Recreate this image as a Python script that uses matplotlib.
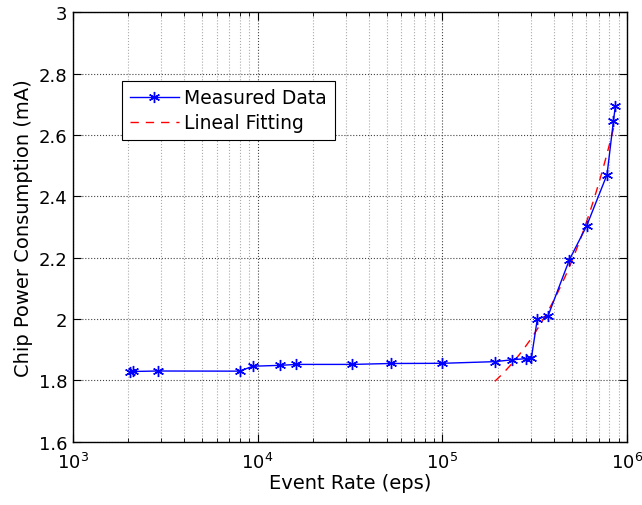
import numpy as np
import matplotlib
matplotlib.use("Agg")
import matplotlib.pyplot as plt
from matplotlib.ticker import FixedLocator, FixedFormatter, LogLocator, NullFormatter

plt.rcParams['font.family'] = ['DejaVu Sans']
plt.rcParams['mathtext.fontset'] = 'dejavusans'

# Measured data
event_rate = [2050, 2130, 2900, 8000, 9400, 13300, 16200, 32600, 52500, 100000,
              192000, 238000, 284000, 303000, 326000, 373000, 486000, 603000,
              777000, 841000, 862000]
power = [1.828, 1.829, 1.8305, 1.830, 1.846, 1.849, 1.852, 1.852, 1.855, 1.8556,
         1.861, 1.867, 1.871, 1.874, 2.000, 2.011, 2.193, 2.304,
         2.471, 2.645, 2.694]
fit_start_index = 10  # linear fit uses points from 1.92e5 eps on

x_ticks = [1e3, 1e4, 1e5, 1e6]
x_tick_labels = [r'$10^{3}$', r'$10^{4}$', r'$10^{5}$', r'$10^{6}$']
y_ticks = [1.6, 1.8, 2.0, 2.2, 2.4, 2.6, 2.8, 3.0]
y_tick_labels = ['1.6', '1.8', '2', '2.2', '2.4', '2.6', '2.8', '3']

fig = plt.figure(figsize=(6.42, 5.06), dpi=100)
ax = fig.add_axes([0.1133, 0.1251, 0.8638, 0.8486])

ax.plot(event_rate, power, '-', color='#0000ff', lw=1.0, marker=(6, 2, 0),
        markersize=8, markeredgewidth=1.0, label='Measured Data', zorder=3)

xf = np.array(event_rate[fit_start_index:], dtype=float)
yf = np.array(power[fit_start_index:], dtype=float)
coef = np.polyfit(xf, yf, 1)
xs = np.linspace(xf.min(), xf.max(), 200)
ax.plot(xs, np.polyval(coef, xs), '--', color='#ff0000', lw=1.0,
        dashes=(6, 5), label='Lineal Fitting', zorder=2)

ax.set_xscale('log')
ax.set_xlim(1e3, 1e6)
ax.set_ylim(1.6, 3.0)

ax.xaxis.set_major_locator(FixedLocator(x_ticks))
ax.xaxis.set_major_formatter(FixedFormatter(x_tick_labels))
ax.xaxis.set_minor_locator(LogLocator(base=10, subs=np.arange(2, 10)))
ax.xaxis.set_minor_formatter(NullFormatter())
ax.yaxis.set_major_locator(FixedLocator(y_ticks))
ax.yaxis.set_major_formatter(FixedFormatter(y_tick_labels))

ax.tick_params(which='both', direction='in', top=True, right=True, color='black')
ax.tick_params(which='major', length=6, width=0.8)
ax.tick_params(which='minor', length=3, width=0.6)
ax.tick_params(axis='x', which='major', labelsize=13, pad=7)
ax.tick_params(axis='y', which='major', labelsize=13, pad=4)

ax.grid(True, which='major', linestyle=':', color='#444444', lw=0.8)
ax.grid(True, which='minor', axis='x', linestyle=':', color='#aaaaaa', lw=0.8)
ax.set_axisbelow(True)

for s in ax.spines.values():
    s.set_linewidth(1.0)

ax.set_xlabel('Event Rate (eps)', fontsize=14, labelpad=1)
ax.set_ylabel('Chip Power Consumption (mA)', fontsize=14, labelpad=4)

leg = ax.legend(loc='upper left', bbox_to_anchor=(0.089, 0.841), fontsize=13.5,
                frameon=True, fancybox=False, edgecolor='black', framealpha=1,
                borderpad=0.42, borderaxespad=0, handlelength=2.6,
                handletextpad=0.3, labelspacing=0.3)
leg.get_frame().set_linewidth(0.8)

fig.savefig('out.png', dpi=100)
